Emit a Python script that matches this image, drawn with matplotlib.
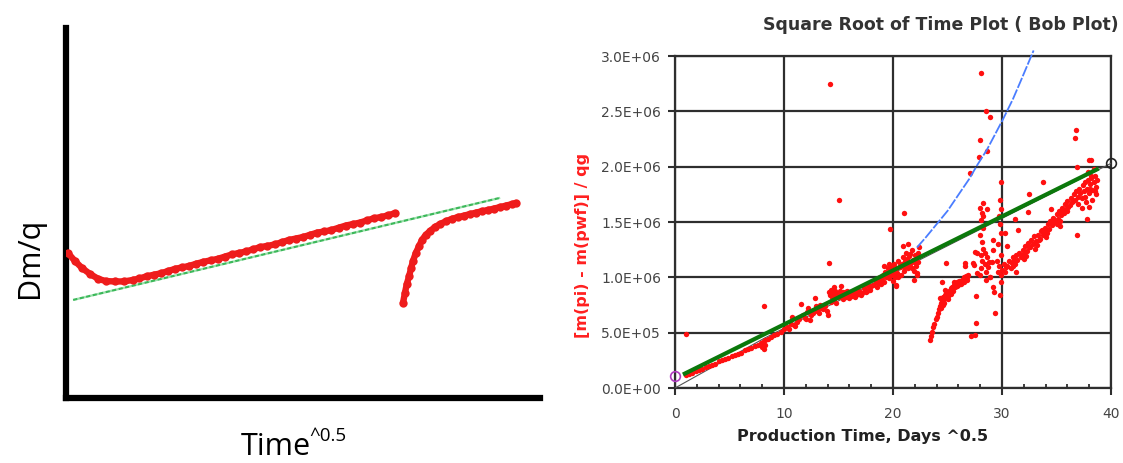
import numpy as np
import matplotlib
matplotlib.use("Agg")
import matplotlib.pyplot as plt
from matplotlib.ticker import MultipleLocator, FuncFormatter

# ---- left: schematic Dm/q vs time^0.5 (arbitrary units 0-10) ----
sk_early_x = [0.04, 0.19, 0.34, 0.51, 0.68, 0.84, 1.03, 1.22, 1.41, 1.55, 1.70, 1.85,
              2.00, 2.15, 2.30, 2.45, 2.60, 2.75, 2.90, 3.05, 3.20, 3.35, 3.50, 3.65,
              3.80, 3.95, 4.10, 4.25, 4.40, 4.55, 4.70, 4.85, 5.00, 5.15, 5.30, 5.45,
              5.60, 5.75, 5.90, 6.05, 6.20, 6.35, 6.50, 6.65, 6.80, 6.95]
sk_early_y = [3.92, 3.70, 3.51, 3.35, 3.22, 3.16, 3.15, 3.15, 3.19, 3.23, 3.29, 3.33,
              3.37, 3.43, 3.49, 3.53, 3.57, 3.63, 3.68, 3.72, 3.76, 3.82, 3.88, 3.92,
              3.96, 4.02, 4.08, 4.11, 4.15, 4.21, 4.27, 4.31, 4.35, 4.41, 4.47, 4.50,
              4.54, 4.60, 4.66, 4.70, 4.74, 4.80, 4.86, 4.89, 4.94, 5.00]
sk_late_x = [7.11, 7.15, 7.19, 7.24, 7.28, 7.32, 7.38, 7.45, 7.51, 7.59, 7.68, 7.78,
             7.89, 8.02, 8.14, 8.27, 8.40, 8.52, 8.65, 8.78, 8.90, 9.03, 9.16, 9.28,
             9.41, 9.49]
sk_late_y = [2.57, 2.84, 3.08, 3.30, 3.51, 3.70, 3.92, 4.11, 4.27, 4.41, 4.51, 4.62,
             4.70, 4.78, 4.84, 4.89, 4.93, 4.97, 5.01, 5.05, 5.08, 5.12, 5.16, 5.20,
             5.24, 5.27]
sk_fit_x = [0.15, 9.16]
sk_fit_y = [2.65, 5.41]

# ---- right: square root of time plot, y in units of 1E+06 ----
rt_x = [
    # early linear trend
    1.0, 1.3, 1.6, 1.9, 2.2, 2.5, 2.8, 3.1, 3.4, 3.7, 4.0, 4.3, 4.6, 4.9, 5.2, 5.5,
    5.8, 6.1, 6.4, 6.7, 7.0, 7.3, 7.6, 7.9, 8.1, 8.3, 8.5, 8.8, 9.1, 9.4, 9.7, 10.0,
    1.0, 8.2, 8.2, 8.3, 8.0,
    # 10 - 14
    10.3, 10.6, 10.7, 10.9, 11.2, 11.4, 11.6, 11.7, 11.9, 12.1, 12.2, 12.4, 12.5, 12.7,
    12.8, 12.9, 13.0, 13.1, 13.3, 13.4, 13.6, 13.8, 14.0, 13.9, 10.5, 11.0, 12.0, 13.2,
    # 14 - 18 band
    14.1, 14.2, 14.3, 14.4, 14.5, 14.6, 14.7, 14.8, 14.9, 15.0, 15.1, 15.2, 15.3, 15.4,
    15.5, 15.6, 15.7, 15.8, 15.9, 16.0, 16.1, 16.2, 16.3, 16.4, 16.5, 16.6, 16.7, 16.8,
    16.9, 17.0, 17.2, 17.4, 17.6, 17.8, 18.0, 14.3, 14.8, 15.4, 16.0, 14.6, 15.2,
    16.5, 17.1, 17.3, 17.5, 17.7, 17.9, 14.4, 15.0, 15.6, 16.2, 16.8,
    14.1, 14.2, 15.0,
    # 18 - 22.5 cloud
    18.2, 18.4, 18.5, 18.7, 18.8, 18.9, 19.0, 19.1, 19.2, 19.3, 19.4, 19.5, 19.6, 19.7,
    19.8, 19.9, 20.0, 20.1, 20.2, 20.3, 20.4, 20.5, 20.6, 20.7, 20.8, 20.9, 21.0, 21.1,
    21.2, 21.3, 21.4, 21.5, 21.6, 21.7, 21.8, 21.9, 22.0, 22.1, 22.2, 22.3, 22.4, 19.6,
    20.0, 20.9, 21.4, 20.3, 21.9, 22.2, 19.2, 18.6, 19.0, 19.4, 19.8, 20.2, 20.6, 21.0,
    21.3, 21.6, 21.9, 22.3, 20.5, 21.1, 21.7,
    19.7, 21.0, 20.3,
    # second branch
    23.4, 23.5, 23.6, 23.7, 23.8, 23.9, 24.0, 24.1, 24.2, 24.3, 24.4, 24.5, 24.6, 24.7,
    24.8, 24.9, 25.0, 25.1, 25.2, 25.3, 25.4, 25.5, 25.6, 25.7, 25.8, 25.9, 26.0, 26.1,
    26.2, 26.3, 26.4, 26.5, 26.6, 26.7, 26.8, 26.9, 24.4, 24.7, 25.0, 25.3, 24.3, 24.8,
    25.6, 24.6, 25.9, 26.2, 26.5, 26.8,
    24.9, 24.5, 26.6, 27.3, 27.1, 27.5, 27.2, 27.6, 27.6, 27.7, 27.7, 26.6, 27.4, 27.5,
    # scattered columns near 28 and 30
    28.0, 28.1, 28.2, 28.1, 28.3, 28.2, 28.0, 28.3, 28.1, 28.2, 28.0, 28.3, 28.4, 28.5,
    28.6, 28.7, 28.4, 28.8, 28.9, 28.5, 28.1, 28.5, 28.9, 28.0, 28.6, 27.9, 28.3, 28.6,
    29.2, 29.2, 29.1, 28.9, 29.2, 29.4, 29.3, 29.8, 29.9, 29.9, 29.8, 29.9, 29.7, 29.8,
    29.9, 29.6, 29.9, 29.7, 29.9, 29.6, 29.5,
    # third branch
    30.0, 30.2, 30.3, 30.5, 30.6, 30.8, 30.9, 31.0, 31.2, 31.3, 31.4, 31.6, 31.7, 31.9,
    32.0, 32.1, 32.3, 32.4, 32.5, 32.7, 32.8, 32.9, 33.1, 33.2, 33.3, 33.5, 33.6, 33.8,
    33.9, 34.0, 34.2, 34.3, 34.4, 34.6, 34.7, 34.8, 35.0, 35.1, 35.2, 35.4, 35.5, 35.6,
    35.8, 35.9, 36.0, 36.2, 36.3, 36.4, 36.6, 36.7, 36.8, 37.0, 37.1, 37.2, 37.4, 37.5,
    37.6, 37.8, 37.9, 38.0, 38.1, 38.2, 38.3, 38.4, 38.5, 38.6, 38.7, 37.7, 38.0, 38.3,
    37.3, 37.9, 38.4, 38.6, 31.0, 32.0, 33.0, 34.0, 35.0, 36.0, 37.0,
    30.4, 31.1, 31.8, 32.6, 33.4, 34.1, 34.9, 35.7, 36.5, 37.3, 38.1, 38.5, 38.2, 37.6,
    36.1, 35.3, 33.7, 32.2,
    31.2, 31.5, 32.4, 35.3, 36.9, 37.8, 31.3, 33.8, 36.7, 36.8, 38.2, 38.0, 36.9, 32.5,
    30.5, 30.3, 34.5,
]
rt_y = [
    0.12, 0.13, 0.14, 0.15, 0.16, 0.17, 0.19, 0.20, 0.21, 0.22, 0.24, 0.25, 0.26, 0.27, 0.29, 0.30,
    0.31, 0.32, 0.34, 0.35, 0.36, 0.38, 0.39, 0.41, 0.42, 0.43, 0.44, 0.46, 0.48, 0.49, 0.51, 0.53,
    0.49, 0.74, 0.35, 0.39, 0.37,
    0.55, 0.58, 0.64, 0.57, 0.60, 0.62, 0.76, 0.66, 0.63, 0.69, 0.72, 0.61, 0.66, 0.68,
    0.81, 0.74, 0.70, 0.73, 0.75, 0.72, 0.71, 0.74, 0.66, 0.70, 0.53, 0.56, 0.62, 0.68,
    0.87, 0.84, 0.89, 0.82, 0.86, 0.80, 0.88, 0.84, 0.86, 0.82, 0.88, 0.85, 0.83, 0.87,
    0.84, 0.86, 0.82, 0.88, 0.85, 0.84, 0.87, 0.83, 0.86, 0.88, 0.85, 0.84, 0.87, 0.89,
    0.85, 0.87, 0.86, 0.89, 0.88, 0.91, 0.92, 0.78, 0.77, 0.80, 0.81, 0.91, 0.92,
    0.82, 0.84, 0.90, 0.87, 0.93, 0.89, 0.85, 0.85, 0.87, 0.85, 0.86,
    1.13, 2.75, 1.70,
    0.93, 0.96, 0.91, 0.97, 1.00, 0.94, 0.98, 1.02, 0.96, 1.05, 1.00, 1.08, 0.99, 1.04,
    1.10, 1.02, 1.06, 1.12, 1.00, 1.08, 1.04, 1.15, 1.09, 1.02, 1.12, 1.18, 1.06, 1.10,
    1.22, 1.14, 1.08, 1.19, 1.12, 1.25, 1.16, 1.06, 1.20, 1.10, 1.04, 1.14, 1.27, 1.12,
    0.97, 1.28, 1.30, 0.93, 0.98, 1.02, 1.10, 0.95, 1.01, 1.03, 1.07, 1.05, 1.11, 1.09,
    1.17, 1.21, 1.14, 1.22, 1.00, 1.15, 1.08,
    1.44, 1.58, 0.92,
    0.43, 0.47, 0.51, 0.55, 0.58, 0.62, 0.64, 0.68, 0.71, 0.74, 0.77, 0.79, 0.82, 0.80,
    0.84, 0.86, 0.83, 0.88, 0.86, 0.90, 0.91, 0.88, 0.93, 0.91, 0.94, 0.96, 0.93, 0.97,
    0.95, 0.98, 0.97, 1.00, 0.98, 1.01, 1.00, 1.02, 0.72, 0.77, 0.80, 0.85, 0.81, 0.89,
    0.96, 0.75, 0.92, 0.94, 0.96, 0.98,
    1.13, 0.96, 1.13, 1.13, 1.94, 0.48, 0.47, 0.59, 0.83, 1.04, 1.22, 1.10, 1.11, 1.23,
    1.02, 1.08, 1.15, 1.20, 1.26, 1.32, 1.38, 1.45, 1.52, 1.58, 1.63, 1.67, 1.12, 1.05,
    1.18, 1.09, 1.22, 1.14, 1.00, 0.98, 2.85, 2.50, 2.45, 2.24, 2.14, 2.09, 1.55, 1.62,
    1.34, 1.25, 1.14, 1.00, 0.91, 0.675, 0.87, 0.84, 0.96, 1.86, 1.70, 1.62, 1.55, 1.48,
    1.40, 1.30, 1.20, 1.10, 1.02, 1.05, 1.15,
    1.07, 1.12, 1.05, 1.10, 1.15, 1.08, 1.13, 1.18, 1.12, 1.20, 1.16, 1.22, 1.18, 1.25,
    1.21, 1.28, 1.24, 1.31, 1.27, 1.34, 1.30, 1.37, 1.33, 1.29, 1.38, 1.35, 1.42, 1.38,
    1.45, 1.41, 1.48, 1.44, 1.51, 1.47, 1.54, 1.50, 1.57, 1.53, 1.60, 1.56, 1.63, 1.59,
    1.66, 1.62, 1.69, 1.65, 1.72, 1.68, 1.75, 1.70, 1.78, 1.73, 1.80, 1.76, 1.83, 1.78,
    1.86, 1.80, 1.88, 1.76, 1.84, 1.90, 1.79, 1.86, 1.92, 1.82, 1.88, 1.68, 1.64, 1.70,
    1.63, 1.95, 1.98, 1.75, 1.10, 1.17, 1.26, 1.36, 1.48, 1.60, 1.66,
    1.09, 1.16, 1.20, 1.27, 1.34, 1.40, 1.51, 1.58, 1.69, 1.72, 1.80, 1.78, 1.92, 1.73,
    1.64, 1.51, 1.43, 1.19,
    1.53, 1.43, 1.59, 1.46, 1.38, 1.53, 1.05, 1.86, 2.26, 2.33, 2.06, 2.06, 2.00, 1.75,
    1.28, 1.40, 1.62,
]
blue_x = [22.2, 23.0, 24.0, 25.0, 26.1, 27.0, 27.7, 28.6, 29.3, 30.1, 31.0, 31.7, 32.3, 32.9]
blue_y = [1.27, 1.36, 1.48, 1.60, 1.76, 1.89, 2.01, 2.15, 2.28, 2.43, 2.61, 2.77, 2.91, 3.05]
green_x = [0.9, 38.7]
green_y = [0.13, 1.975]
black_x = [0.0, 8.2, 40.0]
black_y = [0.0, 0.45, 2.03]
start_pt = (0.0, 0.11)
end_pt = (40.0, 2.03)
SCALE = 1e6

fig = plt.figure(figsize=(11.23, 4.63), dpi=100)
W, H = 1123.0, 463.0

# left schematic
ax1 = fig.add_axes([66 / W, 65 / H, 474 / W, 370 / H])
ax1.set_xlim(0, 10)
ax1.set_ylim(0, 10)
for s in ["top", "right"]:
    ax1.spines[s].set_visible(False)
for s in ["left", "bottom"]:
    ax1.spines[s].set_linewidth(4.5)
    ax1.spines[s].set_color("black")
    ax1.spines[s].set_capstyle("projecting")
ax1.set_xticks([])
ax1.set_yticks([])
ax1.plot(sk_fit_x, sk_fit_y, color="#3cb85a", lw=1.6, dashes=(2, 1),
         gapcolor="#9be3ab", zorder=2)
# dotted red curves: overlapping dots joined by a thick stroke
for xs, ys in [(sk_early_x, sk_early_y), (sk_late_x, sk_late_y)]:
    ax1.plot(xs, ys, "-", color="#ee1c1c", lw=4.6, solid_capstyle="round",
             solid_joinstyle="round", zorder=3)
    ax1.plot(xs, ys, "o", color="#ee1c1c", ms=6.0, mew=0, zorder=3)

fig.text(30 / W, 1 - 258 / H, "Dm/q", rotation=90, ha="center", va="center",
         fontsize=22, family="Open Sans")
fig.text(311 / W, 1 - 455 / H, "Time", ha="right", va="baseline",
         fontsize=22, family="Open Sans")
fig.text(309 / W, 1 - 441 / H, "^0.5", ha="left", va="baseline",
         fontsize=13.5, family="Open Sans")

# right square-root-of-time plot
ax2 = fig.add_axes([675 / W, 75 / H, 436 / W, 332 / H])
ax2.set_xlim(0, 40)
ax2.set_ylim(0, 3.0e6)
ax2.xaxis.set_major_locator(MultipleLocator(10))
ax2.xaxis.set_minor_locator(MultipleLocator(2))
ax2.yaxis.set_major_locator(MultipleLocator(5e5))
ax2.yaxis.set_major_formatter(FuncFormatter(lambda v, p: "{:.1E}".format(v)))
ax2.grid(True, which="major", color="#2e2e2e", lw=1.6)
for s in ax2.spines.values():
    s.set_color("#2e2e2e")
    s.set_linewidth(1.6)
ax2.tick_params(axis="both", which="major", direction="out", length=5, width=1.5,
                color="#2e2e2e", labelsize=10, labelcolor="#444444")
ax2.tick_params(axis="y", pad=5)
ax2.tick_params(axis="x", pad=9)
ax2.tick_params(axis="x", which="minor", direction="in", length=3, width=1.3,
                color="#2e2e2e")
ax2.tick_params(axis="y", which="minor", left=False)
for lab in ax2.get_xticklabels() + ax2.get_yticklabels():
    lab.set_family("DejaVu Sans")

ax2.plot(black_x, np.array(black_y) * SCALE, color="#555555", lw=0.8, zorder=3)
ax2.scatter(rt_x, np.array(rt_y) * SCALE, s=15, color="#ff1010", linewidths=0, zorder=4)
ax2.plot(blue_x, np.array(blue_y) * SCALE, color="#4a7dff", lw=1.3, dashes=(6, 1),
         zorder=4, clip_on=False)
ax2.plot(green_x, np.array(green_y) * SCALE, color="#0b780b", lw=3.0, zorder=5)
ax2.plot([start_pt[0]], [start_pt[1] * SCALE], "o", ms=7, mfc="none",
         mec="#b03cc0", mew=1.2, zorder=6, clip_on=False)
ax2.plot([end_pt[0]], [end_pt[1] * SCALE], "o", ms=7, mfc="none",
         mec="#222222", mew=1.2, zorder=6, clip_on=False)

fig.text(941 / W, 1 - 25 / H, "Square Root of Time Plot ( Bob Plot)", ha="center",
         va="center", fontsize=12.5, fontweight="bold", color="#333333",
         family="DejaVu Sans")
fig.text(863 / W, 1 - 437 / H, "Production Time, Days ^0.5", ha="center",
         va="center", fontsize=11.5, fontweight="bold", color="#222222",
         family="DejaVu Sans")
fig.text(583 / W, 1 - 245 / H, "[m(pi) - m(pwf)] / qg", rotation=90, ha="center",
         va="center", fontsize=11.5, fontweight="bold", color="#ff2020",
         family="DejaVu Sans")

fig.savefig("out.png", dpi=100)
